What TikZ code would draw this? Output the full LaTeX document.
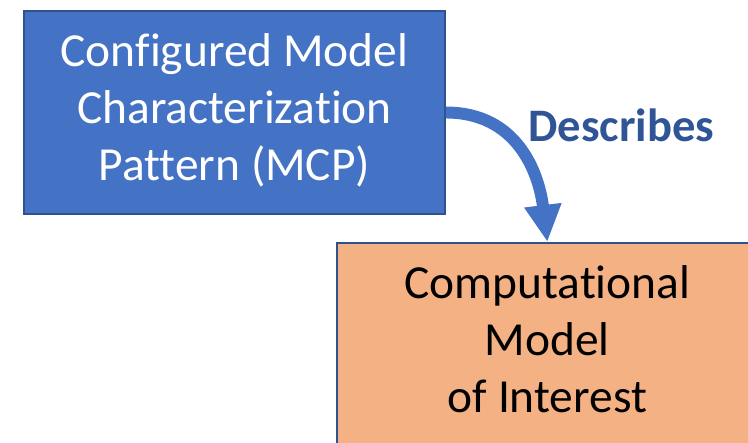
\documentclass[tikz,border=0pt]{standalone}
\usepackage{fontspec}
\setmainfont{Carlito}[Ligatures={NoCommon}]
\usetikzlibrary{arrows.meta,positioning}

\definecolor{mcpblue}{HTML}{4472C4}
\definecolor{edgeblue}{HTML}{2F528F}
\definecolor{cmiorange}{HTML}{F4B183}
\definecolor{labelblue}{HTML}{2F5597}

% box text, set a little lower than the middle
\newcommand{\boxlines}[1]{\raisebox{-0.08cm}{\begin{tabular}{@{}c@{}}#1\end{tabular}}}

\begin{document}
\begin{tikzpicture}[
  x=0.02cm, y=-0.02cm,
  box/.style={rectangle, draw=edgeblue, line width=1.1pt, minimum width=8.42cm, minimum height=4.06cm,
              inner sep=0pt, align=center, font=\fontsize{27}{32.4}\selectfont},
  desc/.style={-{Triangle[width=0.7cm,length=0.74cm]}, mcpblue, line width=6.8pt},
  node distance=0.54cm and -2.2cm
]
\useasboundingbox (0,0) rectangle (748,443);
\clip (0,0) rectangle (748,443);

\node[box, fill=mcpblue, text=white] at (234.5,112.5) (mcp)
  {\boxlines{Configured Model\\Characterization\\Pattern (MCP)}};
\node[box, fill=cmiorange, text=black, below right=of mcp] (cmi)
  {\boxlines{Computational\\Model\\of Interest}};

\draw[desc] (mcp.east) to[out=0, in=97, looseness=1.1] (cmi.north);
\node[anchor=base, text=labelblue, font=\fontsize{26.5}{32.4}\selectfont\bfseries] at (621.5,141) (lbl) {Describes};
\end{tikzpicture}
\end{document}
